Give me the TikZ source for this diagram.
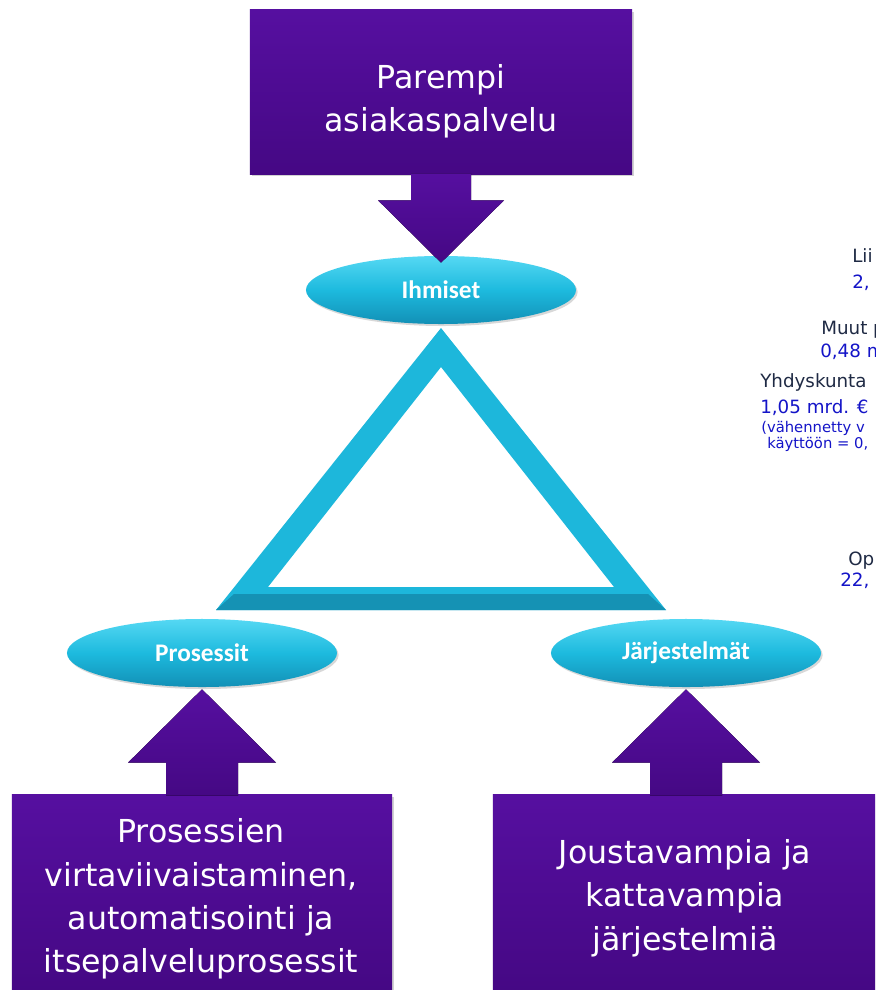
\documentclass[tikz,border=0pt]{standalone}
\usepackage{fontspec}
\setmainfont{DejaVu Sans}
\newfontfamily\ovalfont{Carlito}
\usetikzlibrary{calc}
\usetikzlibrary{shadows}
\usetikzlibrary{shapes.geometric}

\definecolor{purptop}{HTML}{560FA0}
\definecolor{purpbot}{HTML}{450884}
\definecolor{cyantop}{HTML}{55D8F3}
\definecolor{cyanmid}{HTML}{1DBADE}
\definecolor{cyanbot}{HTML}{1290B6}
\definecolor{tricyan}{HTML}{1DB7DB}
\definecolor{tridark}{HTML}{1592B4}
\definecolor{sidenavy}{HTML}{1F2A44}
\definecolor{sideblue}{HTML}{1414C8}

\tikzset{
  purpbox/.style={rectangle, inner sep=0pt, top color=purptop, bottom color=purpbot,
    drop shadow={opacity=.35, shadow xshift=.06cm, shadow yshift=-.06cm}},
  purparrow/.style={top color=purptop, bottom color=purpbot},
  boxtext/.style={text=white, align=center, inner sep=0pt, font=\fontsize{22.5}{30.8}\selectfont},
  oval/.style={ellipse, minimum width=6.75cm, minimum height=1.7cm, inner sep=0pt,
    top color=cyantop, bottom color=cyanbot, middle color=cyanmid, text=white,
    font=\ovalfont\bfseries\fontsize{18}{20}\selectfont,
    drop shadow={opacity=.3, shadow xshift=.04cm, shadow yshift=-.05cm}},
  sidetxt/.style={anchor=base west, inner sep=0pt, text=sidenavy, font=\fontsize{13}{15}\selectfont},
  sidenum/.style={sidetxt, text=sideblue},
  sidesmall/.style={sidenum, font=\fontsize{10.5}{12}\selectfont}
}

\begin{document}
\begin{tikzpicture}[x=.025cm, y=-.025cm]
\useasboundingbox (0,0) rectangle (875,990);
\fill[white] (0,0) rectangle (875,990);
\clip (0,0) rectangle (875,990);

% triangle
\fill[tricyan, even odd rule] (441,328) -- (666,610) -- (216,610) -- cycle
  (441,367) -- (268,587) -- (614,587) -- cycle;
\fill[tridark] (216,610) -- (666,610) -- (648,594) -- (234,594) -- cycle;

% boxes
\node[purpbox, minimum width=9.55cm, minimum height=4.1cm] (topbox) at (441,92) {};
\node[purpbox, minimum width=9.5cm, minimum height=4.9cm] (procbox) at (202,893) {};
\node[purpbox, minimum width=9.65cm, minimum height=4.9cm] (sysbox) at (686,893) {};
\node[boxtext] (toptxt) at (441,101) {Parempi\\asiakaspalvelu};
\node[boxtext] (proctxt) at (201,899) {Prosessien\\virtaviivaistaminen,\\automatisointi ja\\itsepalveluprosessit};
\node[boxtext] (systxt) at (685,898) {Joustavampia ja\\kattavampia\\järjestelmiä};

% ovals
\node[oval] (ihm) at (441,290) {Ihmiset};
\node[oval] (pro) at (202,653) {Prosessit};
\node[oval] (jar) at (686,653) {Järjestelmät};

% arrows
\fill[purparrow] ($(topbox.south)+(-30,-1)$) -- ($(topbox.south)+(-30,26)$)
  -- ($(topbox.south)+(-63,26)$) -- ($(ihm.north)+(0,7)$)
  -- ($(topbox.south)+(63,26)$) -- ($(topbox.south)+(30,26)$)
  -- ($(topbox.south)+(30,-1)$) -- cycle;
\foreach \b/\e in {procbox/pro, sysbox/jar} {
  \fill[purparrow] ($(\b.north)+(-36,1)$) -- ($(\b.north)+(-36,-32)$)
    -- ($(\b.north)+(-74,-32)$) -- ($(\e.south)+(0,2)$)
    -- ($(\b.north)+(74,-32)$) -- ($(\b.north)+(36,-32)$)
    -- ($(\b.north)+(36,1)$) -- cycle;
}

% cut-off text on the right
\node[sidetxt] (lii) at (852,263) {Lii};
\node[sidenum] (liival) at (852,289) {2,};
\node[sidetxt] (muut) at (821,334) {Muut p};
\node[sidenum] (muutval) at (820,357) {0,48 m};
\node[sidetxt] (yhd) at (760,387) {Yhdyskunta};
\node[sidenum] (yhdval) at (760,413) {1,05 mrd. €};
\node[sidesmall] (yhdnote) at (761,432) {(vähennetty v};
\node[sidesmall] (yhdnoteb) at (767,448) {käyttöön = 0,};
\node[sidetxt] (op) at (848,565) {Op};
\node[sidenum] (opval) at (840,586) {22,};
\end{tikzpicture}
\end{document}
